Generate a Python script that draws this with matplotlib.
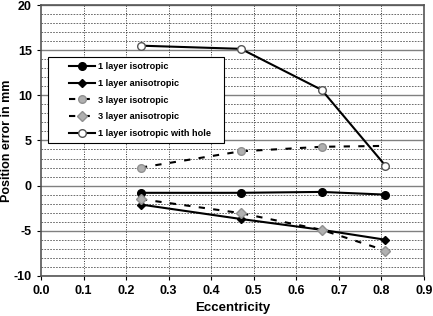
import matplotlib.pyplot as plt
from matplotlib.patches import Rectangle
import numpy as np

# eccentricity positions of the simulated dipoles
ecc = [0.235, 0.47, 0.66, 0.81]

iso1 = [-0.8, -0.8, -0.7, -1.0]
aniso1 = [-2.1, -3.7, -4.9, -6.0]
iso3 = [2.0, 3.8, 4.3, 4.4]
aniso3 = [-1.5, -3.05, -4.9, -7.2]
hole1 = [15.5, 15.15, 10.6, 2.2]

labels = ['1 layer isotropic', '1 layer anisotropic', '3 layer isotropic',
          '3 layer anisotropic', '1 layer isotropic with hole']

plt.rcParams['font.family'] = 'Liberation Sans'
plt.rcParams['font.weight'] = 'bold'
plt.rcParams['axes.unicode_minus'] = False

fig = plt.figure(figsize=(4.33, 3.16), dpi=100)
ax = fig.add_axes([0.0947, 0.127, 0.884, 0.857])

# grid: minor dashed every 1, major solid every 5, vertical dotted
for yv in range(-10, 21):
    if yv % 5 == 0:
        ax.axhline(yv, color='#808080', lw=1.0, zorder=1)
    else:
        ax.axhline(yv, color='#555555', lw=0.6, ls=(0, (2, 1.5)), zorder=1)
for xv in np.arange(0.1, 0.9, 0.1):
    ax.axvline(xv, color='#333333', lw=0.7, ls=(0, (1, 1.5)), zorder=1)

ax.plot(ecc, iso1, color='black', lw=1.5, marker='o', ms=5.5, mfc='black', mec='black', label=labels[0], zorder=3)
ax.plot(ecc, aniso1, color='black', lw=1.5, marker='D', ms=4.5, mfc='black', mec='black', label=labels[1], zorder=3)
ax.plot(ecc, iso3, color='black', lw=1.5, ls=(0, (3, 4)), marker='o', ms=5.5, mfc='#b0b0b0', mec='#909090',
        markevery=[0, 1, 2], label=labels[2], zorder=3)
ax.plot(ecc, aniso3, color='black', lw=1.5, ls=(0, (3, 4)), marker='D', ms=5, mfc='#b0b0b0', mec='#909090',
        label=labels[3], zorder=3)
ax.plot(ecc, hole1, color='black', lw=1.5, marker='o', ms=5.5, mfc='white', mec='#555555', label=labels[4], zorder=3)

ax.set_xlim(0, 0.9)
ax.set_ylim(-10, 20)
ax.set_xticks(np.arange(0, 0.91, 0.1))
ax.set_xticklabels(['%.1f' % v for v in np.arange(0, 0.91, 0.1)])
ax.set_yticks(range(-10, 21, 5))
ax.tick_params(labelsize=9, length=3, direction='out')
for s in ax.spines.values():
    s.set_color('#555555')
    s.set_linewidth(1.2)

ax.set_xlabel('Eccentricity', fontsize=9.5, fontweight='bold', labelpad=4)
ax.set_ylabel('Position error in mm', fontsize=9, fontweight='bold')
ax.yaxis.set_label_coords(-0.072, 0.5)

# legend box drawn separately so the entries can sit indented inside it
box = Rectangle((0.018, 0.491), 0.46, 0.317, transform=ax.transAxes, facecolor='white',
                edgecolor='black', lw=0.8, zorder=4)
ax.add_patch(box)
leg = ax.legend(loc='upper left', bbox_to_anchor=(0.072, 0.79), frameon=False,
                prop={'size': 6.6, 'weight': 'bold'},
                handlelength=2.9, handletextpad=0.35, labelspacing=0.85, borderpad=0, borderaxespad=0)
leg.set_zorder(5)

plt.savefig('out.png', dpi=100)
